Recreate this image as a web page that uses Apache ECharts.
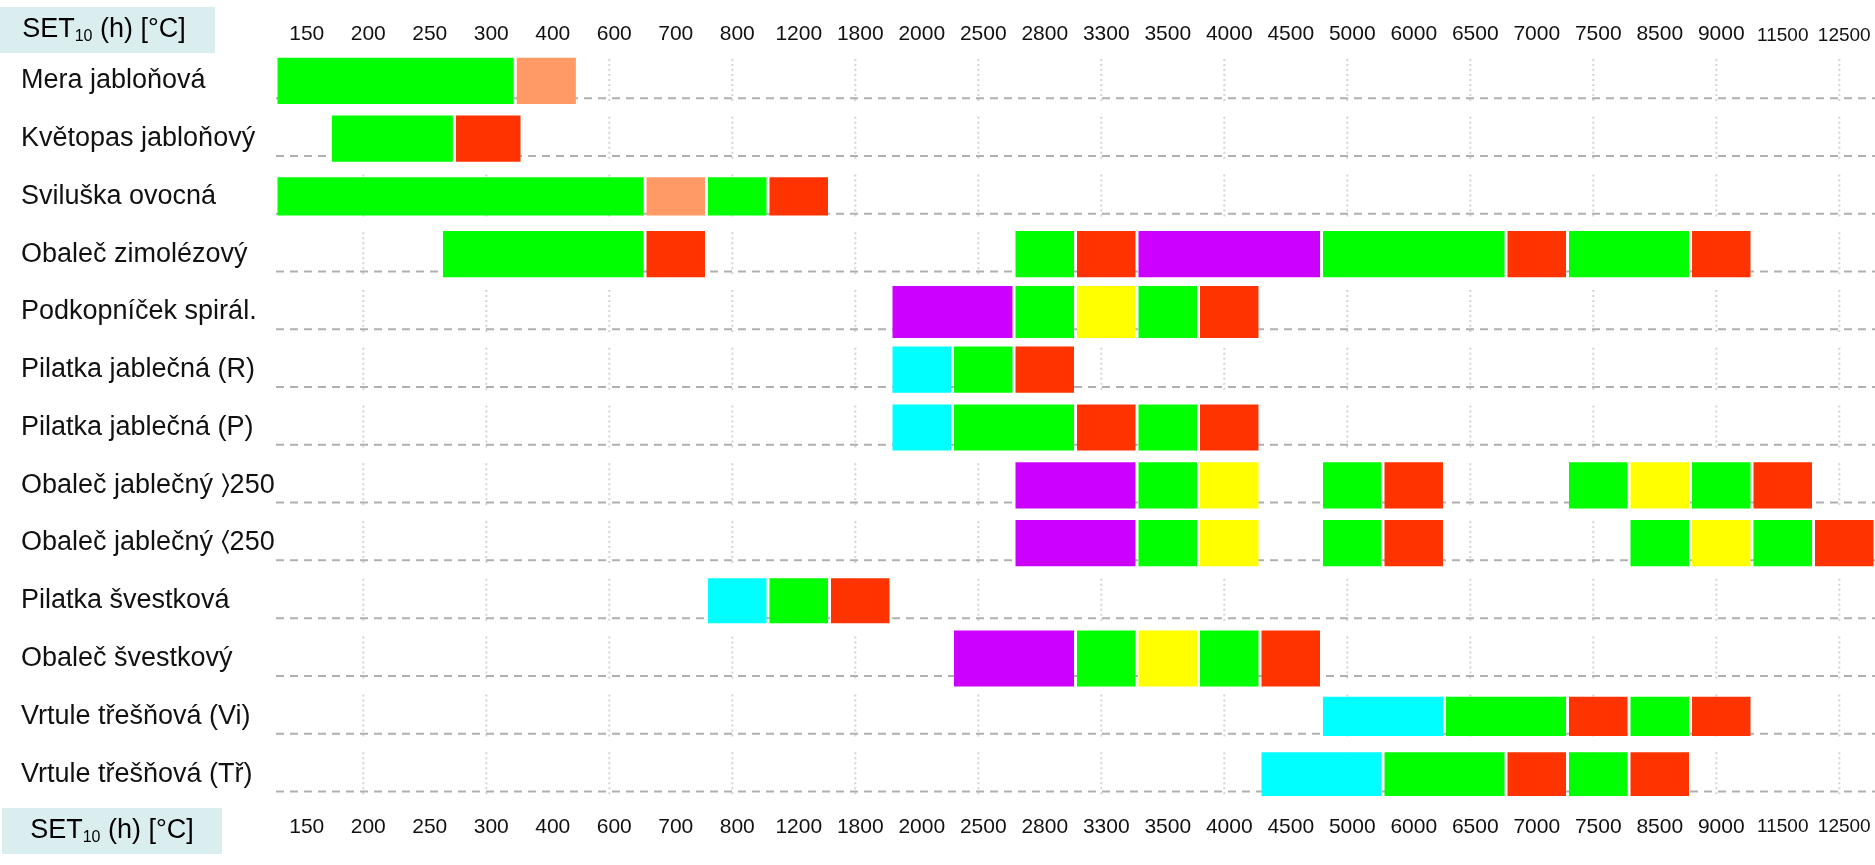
<!DOCTYPE html>
<html>
<head>
<meta charset="utf-8">
<script src="https://cdn.jsdelivr.net/npm/echarts@6/dist/echarts.min.js"></script>
<style>
html,body{margin:0;padding:0;background:#fff;}
#chart{width:1875px;height:865px;}
</style>
</head>
<body>
<div id="chart"></div>
<script>
// ---------- DATA ----------
const pests = [
  'Mera jabloňová',
  'Květopas jabloňový',
  'Sviluška ovocná',
  'Obaleč zimolézový',
  'Podkopníček spirál.',
  'Pilatka jablečná (R)',
  'Pilatka jablečná (P)',
  'Obaleč jablečný \u232A250',
  'Obaleč jablečný \u2329250',
  'Pilatka švestková',
  'Obaleč švestkový',
  'Vrtule třešňová (Vi)',
  'Vrtule třešňová (Tř)'
];

const setTicks = ['150','200','250','300','400','600','700','800','1200','1800','2000','2500','2800','3300','3500','4000','4500','5000','6000','6500','7000','7500','8500','9000','11500','12500'];

// phases: [pest row, from column, to column, stage]  (column units of the SET scale)
const phases = [
  [0, 0, 3.89, 'green'], [0, 3.89, 4.9, 'salmon'],
  [1, 0.885, 2.9, 'green'], [1, 2.9, 4, 'red'],
  [2, 0, 6, 'green'], [2, 6, 7, 'salmon'], [2, 7, 8, 'green'], [2, 8, 9, 'red'],
  [3, 2.69, 6, 'green'], [3, 6, 7, 'red'], [3, 12, 13, 'green'], [3, 13, 14, 'red'], [3, 14, 17, 'purple'], [3, 17, 20, 'green'], [3, 20, 21, 'red'], [3, 21, 23, 'green'], [3, 23, 24, 'red'],
  [4, 10, 12, 'purple'], [4, 12, 13, 'green'], [4, 13, 14, 'yellow'], [4, 14, 15, 'green'], [4, 15, 16, 'red'],
  [5, 10, 11, 'cyan'], [5, 11, 12, 'green'], [5, 12, 13, 'red'],
  [6, 10, 11, 'cyan'], [6, 11, 13, 'green'], [6, 13, 14, 'red'], [6, 14, 15, 'green'], [6, 15, 16, 'red'],
  [7, 12, 14, 'purple'], [7, 14, 15, 'green'], [7, 15, 16, 'yellow'], [7, 17, 18, 'green'], [7, 18, 19, 'red'], [7, 21, 22, 'green'], [7, 22, 23, 'yellow'], [7, 23, 24, 'green'], [7, 24, 25, 'red'],
  [8, 12, 14, 'purple'], [8, 14, 15, 'green'], [8, 15, 16, 'yellow'], [8, 17, 18, 'green'], [8, 18, 19, 'red'], [8, 22, 23, 'green'], [8, 23, 24, 'yellow'], [8, 24, 25, 'green'], [8, 25, 26, 'red'],
  [9, 7, 8, 'cyan'], [9, 8, 9, 'green'], [9, 9, 10, 'red'],
  [10, 11, 13, 'purple'], [10, 13, 14, 'green'], [10, 14, 15, 'yellow'], [10, 15, 16, 'green'], [10, 16, 17, 'red'],
  [11, 17, 19, 'cyan'], [11, 19, 21, 'green'], [11, 21, 22, 'red'], [11, 22, 23, 'green'], [11, 23, 24, 'red'],
  [12, 16, 18, 'cyan'], [12, 18, 20, 'green'], [12, 20, 21, 'red'], [12, 21, 22, 'green'], [12, 22, 23, 'red']
];

// ---------- STYLE ----------
const stageColor = {
  green: '#00FF00', salmon: '#FF9966', red: '#FF3300',
  purple: '#CC00FF', yellow: '#FFFF00', cyan: '#00FFFF'
};
const rowBarFrac = [0.8, 0.8, 0.66, 0.8, 0.9, 0.8, 0.8, 0.8, 0.8, 0.78, 0.97, 0.68, 0.76];
const FONT = "'Liberation Sans', Arial, Helvetica, sans-serif";
const nCols = setTicks.length;

const chart = echarts.init(document.getElementById('chart'), null, {renderer: 'canvas'});

const tickFormatter = (v, i) => (i >= 24 ? '{s|' + v + '}' : '{n|' + v + '}');
const tickRich = {
  n: {fontSize: 21, fontFamily: FONT, color: '#111'},
  s: {fontSize: 19, fontFamily: FONT, color: '#111'}
};

const setTitle = '{a|SET}{b|10}{a| (h) [°C]}';
const setRich = {
  a: {fontSize: 27, fontFamily: FONT, color: '#111', lineHeight: 30},
  b: {fontSize: 16, fontFamily: FONT, color: '#111', lineHeight: 12, verticalAlign: 'bottom'}
};

const option = {
  backgroundColor: '#ffffff',
  animation: false,
  grid: {left: 276, top: 52, width: 1601, height: 751, containLabel: false},
  xAxis: [
    {type: 'value', min: 0, max: nCols, show: false, gridIndex: 0},
    {type: 'category', data: setTicks, position: 'top', boundaryGap: true, gridIndex: 0,
     axisLine: {show: false}, axisTick: {show: false}, splitLine: {show: false},
     axisLabel: {interval: 0, margin: 7, formatter: tickFormatter, rich: tickRich}},
    {type: 'category', data: setTicks, position: 'bottom', boundaryGap: true, gridIndex: 0,
     axisLine: {show: false}, axisTick: {show: false}, splitLine: {show: false},
     axisLabel: {interval: 0, margin: 14, formatter: tickFormatter, rich: tickRich}}
  ],
  yAxis: {
    type: 'category', data: pests, inverse: true,
    axisLine: {show: false}, axisTick: {show: false}, splitLine: {show: false},
    axisLabel: {interval: 0, align: 'left', margin: 255, fontSize: 27, fontFamily: FONT, color: '#111'}
  },
  graphic: [
    {type: 'rect', left: 0, top: 7, shape: {width: 215, height: 46}, style: {fill: '#DAEDEF'}, z: 10},
    {type: 'text', x: 104, y: 30, style: {text: setTitle, rich: setRich, align: 'center', verticalAlign: 'middle'}, z: 11},
    {type: 'rect', left: 2, top: 808, shape: {width: 220, height: 46}, style: {fill: '#DAEDEF'}, z: 10},
    {type: 'text', x: 112, y: 831, style: {text: setTitle, rich: setRich, align: 'center', verticalAlign: 'middle'}, z: 11}
  ],
  series: [
    {
      type: 'custom', name: 'grid', silent: true, z: 1,
      xAxisIndex: 0, yAxisIndex: 0,
      data: pests.map((p, i) => [0, i]),
      encode: {x: 0, y: 1},
      renderItem: function (params, api) {
        const row = api.value(1);
        const c = api.coord([0, row]);
        const band = api.size([0, 1])[1];
        const xR = api.coord([nCols, row])[0];
        const children = [];
        for (let k = 1; k < nCols; k += 2) {
          const x = api.coord([k + 0.42, row])[0];
          children.push({
            type: 'line',
            shape: {x1: x, y1: c[1] - 0.38 * band, x2: x, y2: c[1] + 0.38 * band},
            style: {stroke: '#d4d4d4', lineWidth: 2, lineDash: [2, 3]}
          });
        }
        children.push({
          type: 'line',
          shape: {x1: c[0], y1: c[1] + 0.3 * band, x2: xR, y2: c[1] + 0.3 * band},
          style: {stroke: '#b0b0b0', lineWidth: 2, lineDash: [8, 6]}
        });
        return {type: 'group', children: children};
      }
    },
    {
      type: 'custom', name: 'phases', z: 2,
      xAxisIndex: 0, yAxisIndex: 0,
      data: phases.map(p => [p[1], p[2], p[0]]),
      encode: {x: [0, 1], y: 2},
      renderItem: function (params, api) {
        const row = api.value(2);
        const s = api.coord([api.value(0), row]);
        const e = api.coord([api.value(1), row]);
        const band = api.size([0, 1])[1];
        const h = band * rowBarFrac[row];
        const stage = phases[params.dataIndex][3];
        return {
          type: 'rect',
          shape: {x: s[0] + 1.5, y: s[1] - h / 2, width: e[0] - s[0] - 3, height: h},
          style: {fill: stageColor[stage]}
        };
      }
    }
  ]
};
chart.setOption(option);
</script>
</body>
</html>
